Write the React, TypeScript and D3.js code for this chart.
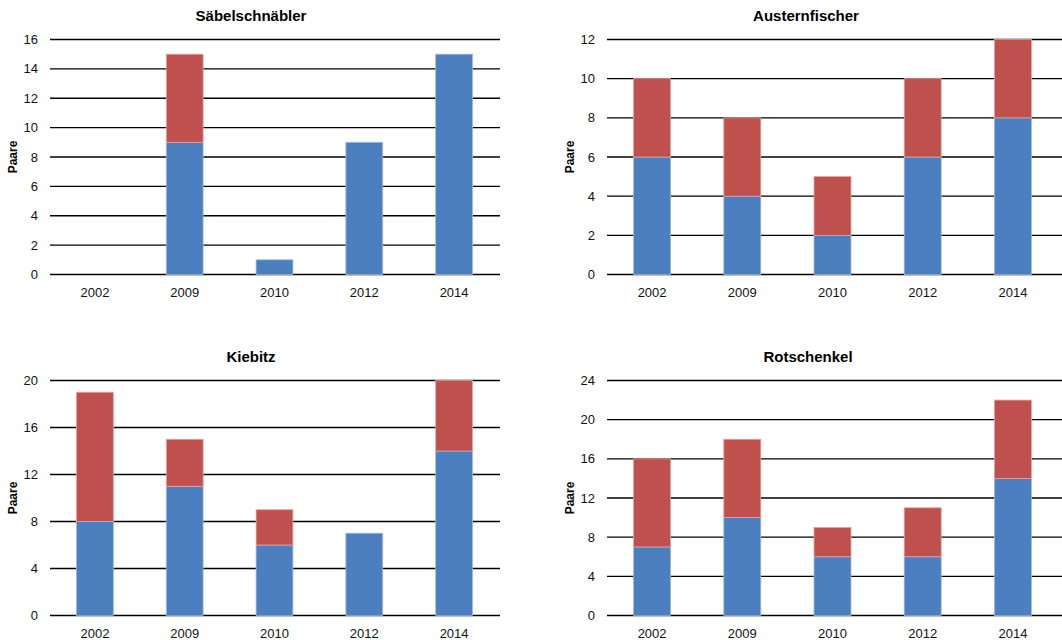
import React from "react";
import * as d3 from "d3";

const years = ["2002", "2009", "2010", "2012", "2014"];

const titles = ["Säbelschnäbler", "Austernfischer", "Kiebitz", "Rotschenkel"];

const saebelBlue = [0, 9, 1, 9, 15];
const saebelRed = [0, 6, 0, 0, 0];
const austernBlue = [6, 4, 2, 6, 8];
const austernRed = [4, 4, 3, 4, 4];
const kiebitzBlue = [8, 11, 6, 7, 14];
const kiebitzRed = [11, 4, 3, 0, 6];
const rotBlue = [7, 10, 6, 6, 14];
const rotRed = [9, 8, 3, 5, 8];

const yMaxes = [16, 12, 20, 24];
const yStepSizes = [2, 2, 4, 4];

const BLUE = "#4B7FBF";
const RED = "#C0504D";
const FONT = "'Liberation Sans', Arial, Helvetica, sans-serif";

const panels = [
  { title: titles[0], blue: saebelBlue, red: saebelRed, max: yMaxes[0], step: yStepSizes[0], x0: 50, x1: 499, gx1: 500, y0: 39.5, y1: 274.5, tx: 251, ty: 21 },
  { title: titles[1], blue: austernBlue, red: austernRed, max: yMaxes[1], step: yStepSizes[1], x0: 607, x1: 1058, gx1: 1062, y0: 39.5, y1: 274.5, tx: 806, ty: 21 },
  { title: titles[2], blue: kiebitzBlue, red: kiebitzRed, max: yMaxes[2], step: yStepSizes[2], x0: 50, x1: 499, gx1: 500, y0: 380.5, y1: 615.5, tx: 251, ty: 362 },
  { title: titles[3], blue: rotBlue, red: rotRed, max: yMaxes[3], step: yStepSizes[3], x0: 607, x1: 1058, gx1: 1062, y0: 380.5, y1: 615.5, tx: 808, ty: 362 },
];

function Panel({ p }: { p: typeof panels[number] }) {
  const x = d3.scaleBand<string>().domain(years).range([p.x0, p.x1]).paddingInner(0.59).paddingOuter(0.295);
  const y = d3.scaleLinear().domain([0, p.max]).range([p.y1, p.y0]);
  const ticks = d3.range(0, p.max + 0.001, p.step);
  const bw = x.bandwidth();
  return (
    <g>
      <text x={p.tx} y={p.ty} textAnchor="middle" fontFamily={FONT} fontWeight="bold" fontSize={15} fill="#000">
        {p.title}
      </text>
      <text
        transform={`translate(${p.x0 - 33},${(p.y0 + p.y1) / 2}) rotate(-90)`}
        textAnchor="middle"
        fontFamily={FONT}
        fontWeight="bold"
        fontSize={12}
        fill="#000"
      >
        Paare
      </text>
      {ticks.map((t) => (
        <g key={t}>
          <line x1={p.x0} x2={p.gx1} y1={y(t)} y2={y(t)} stroke="#000" strokeWidth={1.3} />
          <text x={p.x0 - 12} y={y(t)} dy="0.35em" textAnchor="end" fontFamily={FONT} fontSize={13} fill="#111">
            {t}
          </text>
        </g>
      ))}
      {years.map((yr, i) => {
        const bx = x(yr)!;
        const b = p.blue[i];
        const r = p.red[i];
        return (
          <g key={yr}>
            {b > 0 && (
              <rect x={bx} y={y(b)} width={bw} height={y(0) - y(b)} fill={BLUE} stroke="#9DB9DE" strokeWidth={0.8} />
            )}
            {r > 0 && (
              <rect x={bx} y={y(b + r)} width={bw} height={y(b) - y(b + r)} fill={RED} stroke="#E3A3A1" strokeWidth={0.8} />
            )}
            <text x={bx + bw / 2} y={p.y1 + 22} textAnchor="middle" fontFamily={FONT} fontSize={13} fill="#111">
              {yr}
            </text>
          </g>
        );
      })}
    </g>
  );
}

export default function App() {
  return (
    <svg width={1062} height={640} style={{ position: "absolute", left: 0, top: 0, background: "#fff" }}>
      <rect width={1062} height={640} fill="#fff" />
      {panels.map((p) => (
        <Panel key={p.title} p={p} />
      ))}
    </svg>
  );
}
